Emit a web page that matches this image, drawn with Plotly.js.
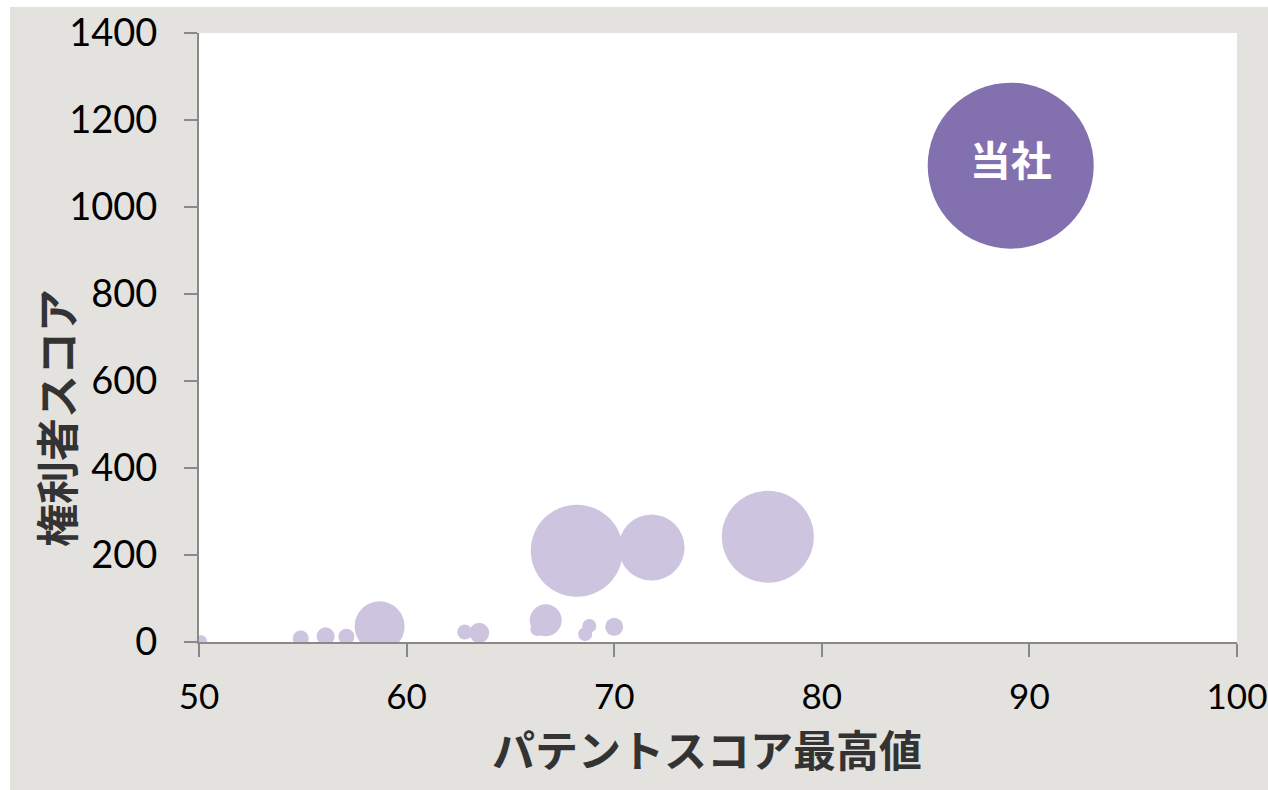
<!DOCTYPE html>
<html>
<head>
<meta charset="utf-8">
<script src="https://cdn.plot.ly/plotly-3.0.1.min.js"></script>
<style>
  html, body { margin: 0; padding: 0; background: #ffffff; width: 1268px; height: 790px; overflow: hidden; }
  #chart { position: absolute; left: 10px; top: 7px; width: 1258px; height: 783px; }
</style>
</head>
<body>
<div id="chart"></div>
<script>
// 他社 (competitors): patent score max, holder score, bubble weight
const otherNames = ["A","B","C","D","E","F","G","H","I","J","K","L","M","N","O"];
const otherPatentMax = [50.1, 54.9, 56.1, 57.1, 58.7, 62.8, 63.5, 66.3, 66.7, 68.2, 68.6, 68.8, 70.0, 71.8, 77.4];
const otherHolderScore = [2, 8, 13, 12, 36, 23, 21, 30, 50, 210, 18, 37, 35, 217, 242];
const otherWeight = [36, 64, 81, 64, 625, 56, 100, 49, 256, 2116, 49, 49, 81, 1089, 2116];

// 当社 (own company)
const ownName = ["当社"];
const ownPatentMax = [89.1];
const ownHolderScore = [1095];
const ownWeight = [6889];

const xTicks = [50, 60, 70, 80, 90, 100];
const yTicks = [0, 200, 400, 600, 800, 1000, 1200, 1400];
const xTitle = "パテントスコア最高値";
const yTitle = "権利者スコア";

const yTickFont = { family: "Lato, 'Liberation Sans', sans-serif", size: 38, color: "#000000" };
const xTickFont = { family: "Lato, 'Liberation Sans', sans-serif", size: 35, color: "#000000" };
const titleFont = { family: "'Noto Sans CJK JP', sans-serif", size: 43, color: "#333333", weight: 700 };

const traces = [
  {
    type: "scatter", mode: "markers",
    x: otherPatentMax, y: otherHolderScore, text: otherNames,
    marker: { size: otherWeight, sizemode: "area", sizeref: 0.5, color: "#cdc5e0", line: { width: 0 }, opacity: 1 },
    hoverinfo: "x+y", showlegend: false
  },
  {
    type: "scatter", mode: "markers+text",
    x: ownPatentMax, y: ownHolderScore, text: ownName,
    textposition: "middle center",
    textfont: { family: "'Noto Sans CJK JP', sans-serif", size: 41, color: "#ffffff", weight: 700 },
    marker: { size: ownWeight, sizemode: "area", sizeref: 0.5, color: "#8370ae", line: { width: 0 }, opacity: 1 },
    hoverinfo: "x+y", showlegend: false
  }
];

const layout = {
  width: 1258, height: 783,
  paper_bgcolor: "#e3e2de",
  plot_bgcolor: "#ffffff",
  margin: { l: 189, r: 31, t: 26, b: 148 },
  xaxis: {
    range: [50, 100], tickvals: xTicks, ticktext: xTicks.map(String),
    showgrid: false, zeroline: false,
    showline: true, linecolor: "#898989", linewidth: 2,
    ticks: "outside", ticklen: 13, tickwidth: 2, tickcolor: "#898989",
    tickfont: xTickFont, ticklabelstandoff: 10, ticklabeloverflow: "allow"
  },
  yaxis: {
    range: [0, 1400], tickvals: yTicks, ticktext: yTicks.map(String),
    showgrid: false, zeroline: false,
    showline: true, linecolor: "#898989", linewidth: 2,
    ticks: "outside", ticklen: 13, tickwidth: 2, tickcolor: "#898989",
    tickfont: yTickFont, ticklabelstandoff: 19, ticklabeloverflow: "allow"
  },
  annotations: [
    { text: xTitle, xref: "paper", yref: "paper", x: 0.4894, y: -0.174,
      xanchor: "center", yanchor: "middle", showarrow: false, font: titleFont },
    { text: yTitle, xref: "paper", yref: "paper", x: -0.1387, y: 0.368, textangle: -90,
      xanchor: "center", yanchor: "middle", showarrow: false, font: titleFont }
  ]
};

Plotly.newPlot("chart", traces, layout, { staticPlot: true, displayModeBar: false });
</script>
</body>
</html>
